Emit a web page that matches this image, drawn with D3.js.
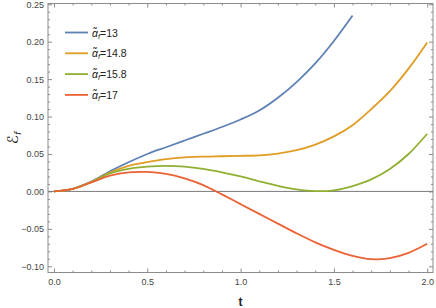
<!DOCTYPE html>
<html>
<head>
<meta charset="utf-8">
<script src="https://cdn.jsdelivr.net/npm/d3@7"></script>
<style>
  body { margin: 0; background: #fff; }
  .axis path, .axis line { stroke: #8c8c8c; }
  .axis text { fill: #444; font-family: "Liberation Sans", Arial, sans-serif; font-size: 9px; }
</style>
</head>
<body>
<div id="chart"></div>
<script>
// t samples for the curves
const tValues = [0, 0.1, 0.2, 0.3, 0.4, 0.5, 0.6, 0.7, 0.8, 0.9, 1.0,
                 1.1, 1.2, 1.3, 1.4, 1.5, 1.6, 1.7, 1.8, 1.9, 2.0];

// legend labels (alpha tilde value)
const alphaLabels = ['13', '14.8', '15.8', '17'];
const colors = ['#5e81b5', '#e19c24', '#8fb032', '#eb6235'];

// values (blue stops at t = 1.6)
const series13   = [0, 0.0035, 0.013, 0.027, 0.039, 0.050, 0.059, 0.068, 0.077, 0.086, 0.096,
                    0.108, 0.125, 0.146, 0.171, 0.201, 0.235];
const series148  = [0, 0.0035, 0.0125, 0.025, 0.034, 0.039, 0.043, 0.0455, 0.0465, 0.047, 0.0475,
                    0.0482, 0.0505, 0.055, 0.0625, 0.0735, 0.0885, 0.110, 0.134, 0.164, 0.199];
const series158  = [0, 0.0035, 0.0125, 0.024, 0.030, 0.033, 0.034, 0.033, 0.030, 0.0255, 0.020,
                    0.0135, 0.0075, 0.0028, 0.0004, 0.0015, 0.0072, 0.016, 0.030, 0.050, 0.077];
const series17   = [0, 0.0035, 0.012, 0.021, 0.0255, 0.026, 0.0235, 0.0175, 0.0085, -0.004, -0.017,
                    -0.030, -0.043, -0.056, -0.068, -0.078, -0.086, -0.0905, -0.089, -0.082, -0.070];

const allSeries = [series13, series148, series158, series17];

const xMajor = [0, 0.5, 1.0, 1.5, 2.0];
const yMajor = [-0.10, -0.05, 0, 0.05, 0.10, 0.15, 0.20, 0.25];

const W = 436, H = 308;
const margin = {top: 3.5, right: 3, bottom: 35.5, left: 48};
const width = W - margin.left - margin.right,
      height = H - margin.top - margin.bottom;

const svg = d3.select('#chart').append('svg')
  .attr('width', W)
  .attr('height', H);

const x = d3.scaleLinear().domain([-0.032, 2.031]).range([margin.left, margin.left + width]);
const y = d3.scaleLinear().domain([-0.1083, 0.2510]).range([margin.top + height, margin.top]);

const xMinor = d3.range(0, 2.0001, 0.1).filter(v => Math.abs(v * 2 - Math.round(v * 2)) > 1e-6);
const yMinor = d3.range(-0.10, 0.2501, 0.01).filter(v => Math.abs(v * 20 - Math.round(v * 20)) > 1e-6);

// frame
svg.append('rect')
  .attr('x', margin.left).attr('y', margin.top)
  .attr('width', width).attr('height', height)
  .attr('fill', 'none').attr('stroke', '#8c8c8c');

function addAxis(axis, tx, ty, labels) {
  const g = svg.append('g')
    .attr('class', 'axis')
    .attr('transform', 'translate(' + tx + ',' + ty + ')')
    .call(axis);
  g.select('.domain').remove();
  if (!labels) g.selectAll('text').remove();
  return g;
}

const bottomY = margin.top + height, rightX = margin.left + width;

// bottom / top
addAxis(d3.axisBottom(x).tickValues(xMajor).tickSize(-4).tickPadding(6).tickFormat(d3.format('.1f')), 0, bottomY, true);
addAxis(d3.axisBottom(x).tickValues(xMinor).tickSize(-2), 0, bottomY, false);
addAxis(d3.axisTop(x).tickValues(xMajor).tickSize(-4), 0, margin.top, false);
addAxis(d3.axisTop(x).tickValues(xMinor).tickSize(-2), 0, margin.top, false);

// left / right
addAxis(d3.axisLeft(y).tickValues(yMajor).tickSize(-4).tickPadding(4).tickFormat(d3.format('.2f')), margin.left, 0, true);
addAxis(d3.axisLeft(y).tickValues(yMinor).tickSize(-2), margin.left, 0, false);
addAxis(d3.axisRight(y).tickValues(yMajor).tickSize(-4), rightX, 0, false);
addAxis(d3.axisRight(y).tickValues(yMinor).tickSize(-2), rightX, 0, false);

// zero line
svg.append('line')
  .attr('x1', margin.left).attr('x2', rightX)
  .attr('y1', y(0)).attr('y2', y(0))
  .attr('stroke', '#7a7a7a').attr('stroke-width', 1);

// curves
const line = d3.line()
  .x((d, i) => x(tValues[i]))
  .y(d => y(d))
  .curve(d3.curveCatmullRom.alpha(0.5));

allSeries.forEach((s, i) => {
  svg.append('path')
    .datum(s)
    .attr('fill', 'none')
    .attr('stroke', colors[i])
    .attr('stroke-width', 1.8)
    .attr('d', line);
});

// legend
const legend = svg.append('g')
  .attr('font-family', '"Liberation Sans", Arial, sans-serif')
  .attr('font-size', 10.5)
  .attr('fill', '#222');

alphaLabels.forEach((lab, i) => {
  const ly = 32.5 + i * 20.8;
  legend.append('line')
    .attr('x1', 65).attr('x2', 88)
    .attr('y1', ly).attr('y2', ly)
    .attr('stroke', colors[i]).attr('stroke-width', 1.8);
  const t = legend.append('text')
    .attr('x', 92).attr('y', ly + 4);
  t.append('tspan').attr('font-style', 'italic').text('α\u0303');
  t.append('tspan').attr('font-style', 'italic').attr('font-size', 7.5).attr('dy', 2).text('f');
  t.append('tspan').attr('dy', -2).text('=' + lab);
});

// axis labels
svg.append('text')
  .attr('x', x(1.0))
  .attr('y', 306)
  .attr('text-anchor', 'middle')
  .attr('font-family', '"Liberation Sans", Arial, sans-serif')
  .attr('font-weight', 'bold')
  .attr('font-size', 12)
  .attr('fill', '#222')
  .text('t');

const yl = svg.append('text')
  .attr('transform', 'translate(18,' + (margin.top + height / 2) + ') rotate(-90)')
  .attr('text-anchor', 'middle')
  .attr('font-family', '"DejaVu Sans", sans-serif')
  .attr('font-size', 15)
  .attr('fill', '#222');
yl.append('tspan').text('ℰ');
yl.append('tspan').attr('font-size', 9).attr('font-style', 'italic').attr('dy', 3).text('f');
</script>
</body>
</html>
